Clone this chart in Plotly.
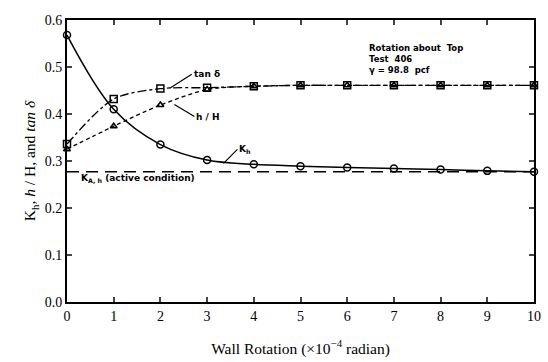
import plotly.graph_objects as go

rotation = [0, 1, 2, 3, 4, 5, 6, 7, 8, 9, 10]
k_h = [0.568, 0.41, 0.335, 0.302, 0.293, 0.289, 0.286, 0.284, 0.282, 0.279, 0.277]
tan_delta = [0.336, 0.432, 0.454, 0.456, 0.459, 0.461, 0.461, 0.461, 0.461, 0.461, 0.461]
h_over_H = [0.325, 0.374, 0.419, 0.452, 0.459, 0.461, 0.461, 0.461, 0.461, 0.461, 0.461]
k_ah = 0.277
x_ticks = list(range(0, 11))
y_ticks = [0.0, 0.1, 0.2, 0.3, 0.4, 0.5, 0.6]

fig = go.Figure()
fig.add_trace(go.Scatter(x=[0, 10], y=[k_ah, k_ah], mode="lines",
                         line=dict(color="black", width=1.5, dash="12px,7px"),
                         cliponaxis=False, showlegend=False))
fig.add_trace(go.Scatter(x=rotation, y=tan_delta, mode="lines+markers",
                         line=dict(color="black", width=1.3, dash="dashdot", shape="spline", smoothing=0.8),
                         marker=dict(symbol="square-open", size=7, color="black", line=dict(width=1.5)),
                         cliponaxis=False, showlegend=False))
fig.add_trace(go.Scatter(x=rotation, y=h_over_H, mode="lines+markers",
                         line=dict(color="black", width=1.3, dash="4px,3px", shape="spline", smoothing=0.8),
                         marker=dict(symbol="triangle-up-open", size=6, color="black", line=dict(width=1.5)),
                         cliponaxis=False, showlegend=False))
fig.add_trace(go.Scatter(x=rotation, y=k_h, mode="lines+markers",
                         line=dict(color="black", width=1.5, shape="spline"),
                         marker=dict(symbol="circle-open", size=7, color="black", line=dict(width=1.5)),
                         cliponaxis=False, showlegend=False))

lab = dict(family="DejaVu Sans", size=9, color="black")
fig.add_annotation(x=2.2, y=0.455, ax=22, ay=-14, text="<b>tan δ</b>", showarrow=True,
                   arrowhead=0, arrowwidth=1.2, arrowcolor="black", xanchor="left", font=lab)
fig.add_annotation(x=2.3, y=0.42, ax=20, ay=12, text="<b>h / H</b>", showarrow=True,
                   arrowhead=0, arrowwidth=1.2, arrowcolor="black", xanchor="left", font=lab)
fig.add_annotation(x=3.35, y=0.295, ax=14, ay=-14, text="<b>K<sub>h</sub></b>", showarrow=True,
                   arrowhead=0, arrowwidth=1.2, arrowcolor="black", xanchor="left", font=lab)
fig.add_annotation(x=0.25, y=0.263, text="<b>K<sub>A, h</sub> (active condition)</b>", showarrow=False,
                   xanchor="left", yanchor="middle", font=lab)
fig.add_annotation(x=6.43, y=0.555, text="<b>Rotation about  Top<br>Test  406<br>γ = 98.8  pcf</b>",
                   showarrow=False, xanchor="left", yanchor="top", align="left",
                   font=dict(family="DejaVu Sans", size=8.5, color="black"))

serif = dict(family="Liberation Serif", size=14, color="black")
fig.update_layout(
    width=548, height=362,
    margin=dict(l=67, r=7, t=20, b=60),
    paper_bgcolor="white", plot_bgcolor="white",
    font=serif,
    xaxis=dict(range=[0, 10], tickvals=x_ticks, ticks="inside", ticklen=5, tickwidth=1.5,
               showline=True, linecolor="black", linewidth=2, mirror="allticks",
               showgrid=False, zeroline=False, tickfont=serif,
               title=dict(text="Wall Rotation (×10<sup>−4</sup> radian)", font=dict(family="Liberation Serif", size=15.5), standoff=20)),
    yaxis=dict(range=[0, 0.6], tickvals=y_ticks, tickformat=".1f", ticks="inside", ticklen=5, tickwidth=1.5,
               showline=True, linecolor="black", linewidth=2, mirror="allticks",
               showgrid=False, zeroline=False, tickfont=serif,
               title=dict(text="K<sub>h</sub>, <i>h</i> / H, and <i>tan δ</i>", font=dict(family="Liberation Serif", size=15.5), standoff=5)),
)
fig.write_html("out.html")
